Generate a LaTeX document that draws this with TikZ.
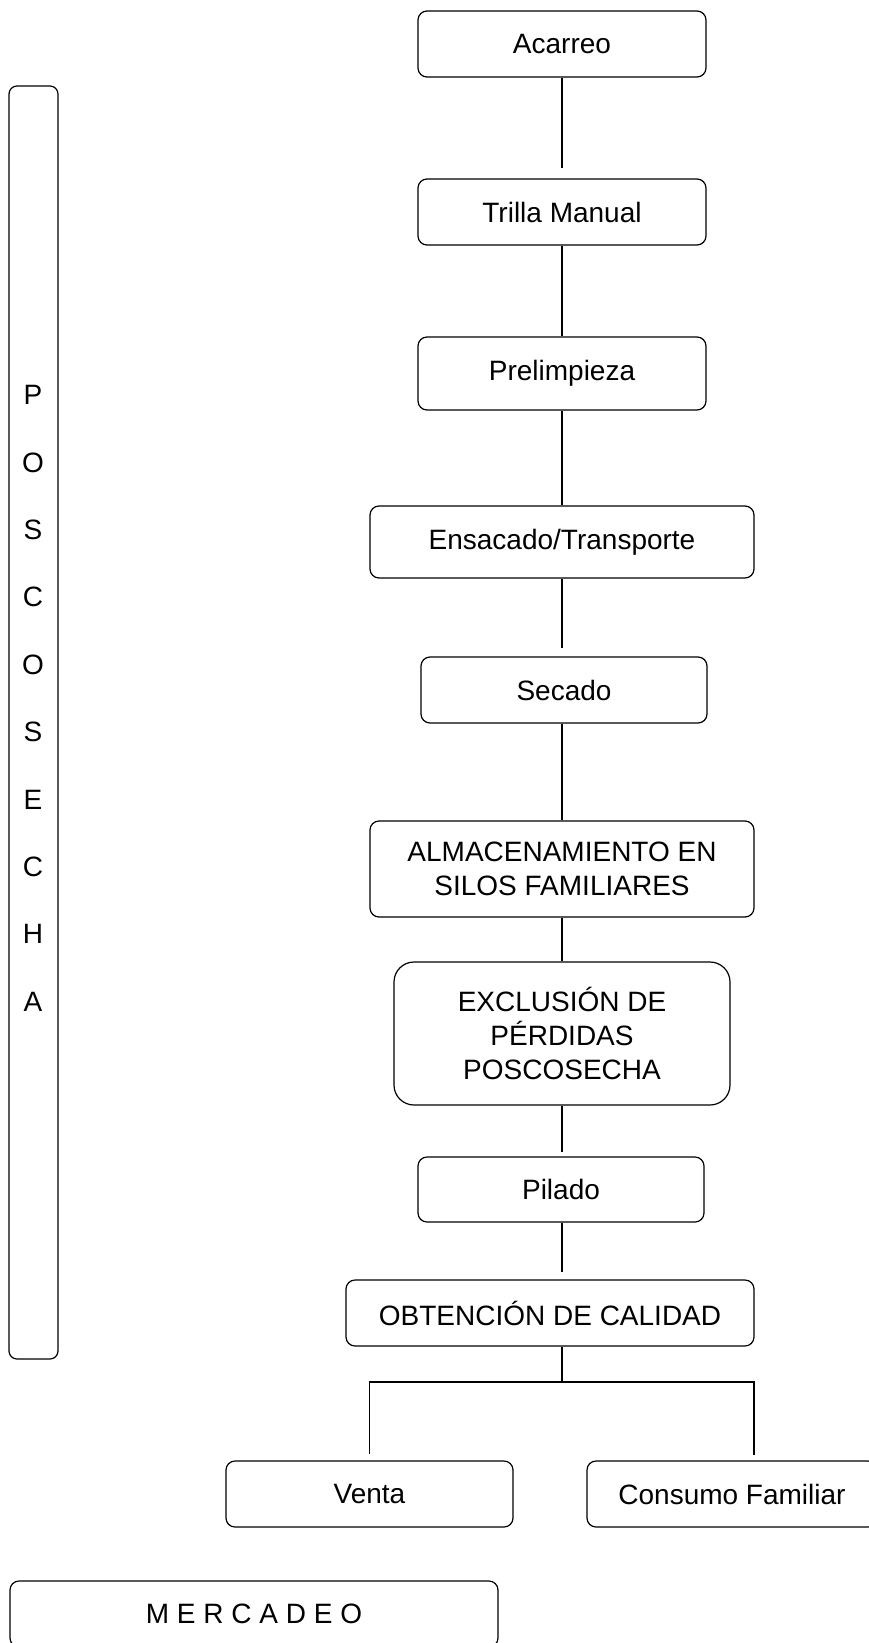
\documentclass[tikz,border=0pt]{standalone}
\usepackage{fontspec}
\setmainfont{Liberation Sans}
\usepackage{tikz}
\tikzset{>=latex}
\tikzset{
  paso/.style={draw, line width=0.6pt, rounded corners=4.5pt, align=center,
    inner sep=2pt, font=\fontsize{14}{17}\selectfont},
  enlace/.style={line width=0.55pt}
}

\begin{document}
\begin{tikzpicture}[x=0.5pt,y=-0.5pt]
            \useasboundingbox (0,0) rectangle (868,1643);
            \node[paso, minimum width=144pt, minimum height=33pt] (acarreo) at (562,44){Acarreo};
            \node[paso, minimum width=144pt, minimum height=33pt] (trilla) at (562,212){Trilla Manual};
            \node[paso, minimum width=144pt, minimum height=36.5pt] (prelim) at (562,373.5){Prelimpieza};
            \node[paso, minimum width=192pt, minimum height=36pt] (ensacado) at (562,542){Ensacado/Transporte};
            \node[paso, minimum width=143pt, minimum height=33pt] (secado) at (564,690){Secado};
            \node[paso, minimum width=192pt, minimum height=48pt] (almacen) at (562,869){ALMACENAMIENTO EN\\SILOS FAMILIARES};
            \node[paso, rounded corners=10pt, minimum width=168pt, minimum height=71.5pt] (exclusion) at (562,1033.5){EXCLUSIÓN DE\\PÉRDIDAS\\POSCOSECHA};
            \node[paso, minimum width=143pt, minimum height=32.5pt] (pilado) at (561,1189.5){Pilado};
            \node[paso, minimum width=204pt, minimum height=33pt] (obtencion) at (550,1313){OBTENCIÓN DE CALIDAD};
            \node[paso, minimum width=143.5pt, minimum height=33pt] (venta) at (369.5,1494){Venta};
            \node[paso, minimum width=145pt, minimum height=33pt] (consumo) at (732,1494){Consumo Familiar};
            \node[paso, minimum width=244pt, minimum height=33pt] (mercadeo) at (254,1614){M E R C A D E O};
            \node[paso, rounded corners=4pt, minimum width=24.5pt, minimum height=636.5pt] (barra) at (33.5,722.5){};
            \foreach \l [count=\i] in {P,O,S,C,O,S,E,C,H,A}
              \node[font=\fontsize{14}{17}\selectfont] (letra\i) at (33,{395+67.4*(\i-1)}){\l};
            \coordinate (split) at (562,1382);
            \coordinate (cf) at (754,1455);
            \draw[enlace, shorten >=5pt] (acarreo) -- (trilla);
            \draw[enlace] (trilla) -- (prelim);
            \draw[enlace] (prelim) -- (ensacado);
            \draw[enlace, shorten >=4pt] (ensacado.south) -- (ensacado.south |- secado.north);
            \draw[enlace] (secado.south -| almacen) -- (almacen);
            \draw[enlace] (almacen) -- (exclusion);
            \draw[enlace, shorten >=2pt] (exclusion.south) -- (exclusion.south |- pilado.north);
            \draw[enlace, shorten >=3.5pt] (pilado.south -| split) -- (split |- obtencion.north);
            \draw[enlace] (split |- obtencion.south) -- (split);
            \draw[enlace, shorten >=3pt] (split) -| (venta);
            \draw[enlace] (split) -| (cf);
        \end{tikzpicture}
\end{document}
